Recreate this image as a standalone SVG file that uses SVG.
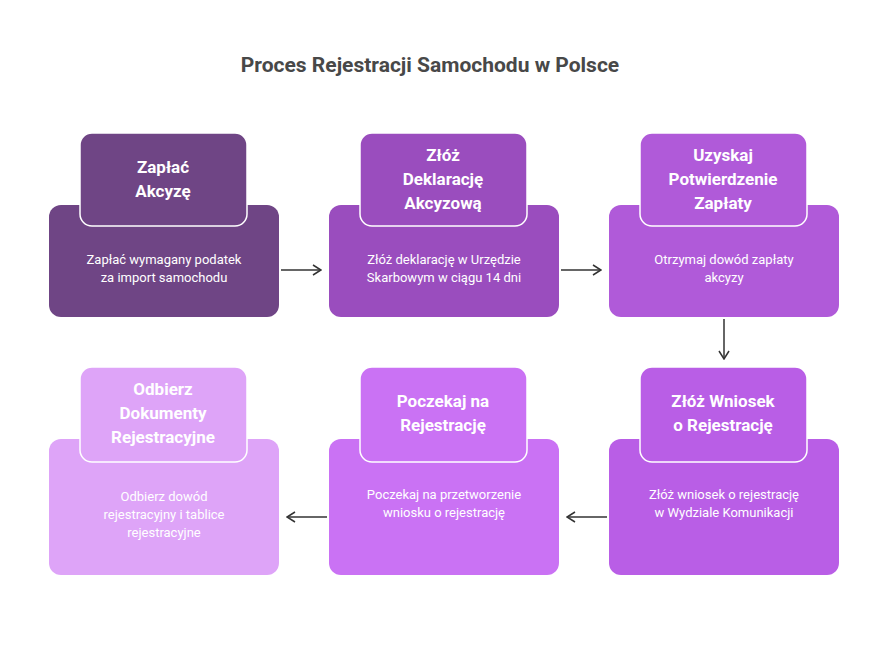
<svg xmlns="http://www.w3.org/2000/svg" width="888" height="648" viewBox="0 0 888 648">
<style>
text{font-family:Roboto,"Liberation Sans",sans-serif;fill:#fff;text-anchor:middle}
.t{font-size:17px;font-weight:bold}
.d{font-size:13px}
.tab{stroke:#fff;stroke-width:1.5}
.c{stroke:#333;stroke-width:1.5;fill:none}
</style>
<defs><marker id="a" markerWidth="10" markerHeight="12" refX="9" refY="6" orient="auto" markerUnits="userSpaceOnUse"><path d="M1,1 L9,6 L1,11" fill="none" stroke="#333" stroke-width="1.5"/></marker></defs>
<text x="430" y="72" style="fill:#484848;font-size:21px;font-weight:bold">Proces Rejestracji Samochodu w Polsce</text>
<g id="n1"><rect x="49" y="205" width="230" height="112" rx="12" fill="#6F4585"/><rect class="tab" x="80" y="133" width="167" height="93" rx="12" fill="#6F4585"/>
<text class="t" x="163" y="173">Zapłać</text><text class="t" x="163" y="197">Akcyzę</text>
<text class="d" x="164" y="264">Zapłać wymagany podatek</text><text class="d" x="164" y="282">za import samochodu</text></g>
<g id="n2"><rect x="329" y="205" width="230" height="112" rx="12" fill="#9A4DBE"/><rect class="tab" x="360" y="133" width="167" height="93" rx="12" fill="#9A4DBE"/>
<text class="t" x="443" y="161">Złóż</text><text class="t" x="443" y="185">Deklarację</text><text class="t" x="443" y="209">Akcyzową</text>
<text class="d" x="444" y="264">Złóż deklarację w Urzędzie</text><text class="d" x="444" y="282">Skarbowym w ciągu 14 dni</text></g>
<g id="n3"><rect x="609" y="205" width="230" height="112" rx="12" fill="#B05AD9"/><rect class="tab" x="640" y="133" width="167" height="93" rx="12" fill="#B05AD9"/>
<text class="t" x="723" y="161">Uzyskaj</text><text class="t" x="723" y="185">Potwierdzenie</text><text class="t" x="723" y="209">Zapłaty</text>
<text class="d" x="724" y="264">Otrzymaj dowód zapłaty</text><text class="d" x="724" y="282">akcyzy</text></g>
<g id="n4"><rect x="609" y="439" width="230" height="136" rx="12" fill="#B95EE6"/><rect class="tab" x="640" y="367" width="167" height="95" rx="12" fill="#B95EE6"/>
<text class="t" x="723" y="407">Złóż Wniosek</text><text class="t" x="723" y="431">o Rejestrację</text>
<text class="d" x="724" y="499">Złóż wniosek o rejestrację</text><text class="d" x="724" y="517">w Wydziale Komunikacji</text></g>
<g id="n5"><rect x="329" y="439" width="230" height="136" rx="12" fill="#CA72F4"/><rect class="tab" x="360" y="367" width="167" height="95" rx="12" fill="#CA72F4"/>
<text class="t" x="443" y="407">Poczekaj na</text><text class="t" x="443" y="431">Rejestrację</text>
<text class="d" x="444" y="499">Poczekaj na przetworzenie</text><text class="d" x="444" y="517">wniosku o rejestrację</text></g>
<g id="n6"><rect x="49" y="439" width="230" height="136" rx="12" fill="#DEA4F8"/><rect class="tab" x="80" y="367" width="167" height="95" rx="12" fill="#DEA4F8"/>
<text class="t" x="163" y="395">Odbierz</text><text class="t" x="163" y="419">Dokumenty</text><text class="t" x="163" y="443">Rejestracyjne</text>
<text class="d" x="164" y="501">Odbierz dowód</text><text class="d" x="164" y="519">rejestracyjny i tablice</text><text class="d" x="164" y="537">rejestracyjne</text></g>
<g id="connectors">
<line class="c" x1="281" y1="270" x2="321" y2="270" marker-end="url(#a)"/>
<line class="c" x1="561" y1="270" x2="601" y2="270" marker-end="url(#a)"/>
<line class="c" x1="724" y1="319" x2="724" y2="359" marker-end="url(#a)"/>
<line class="c" x1="607" y1="517" x2="567" y2="517" marker-end="url(#a)"/>
<line class="c" x1="327" y1="517" x2="287" y2="517" marker-end="url(#a)"/>
</g>
</svg>
